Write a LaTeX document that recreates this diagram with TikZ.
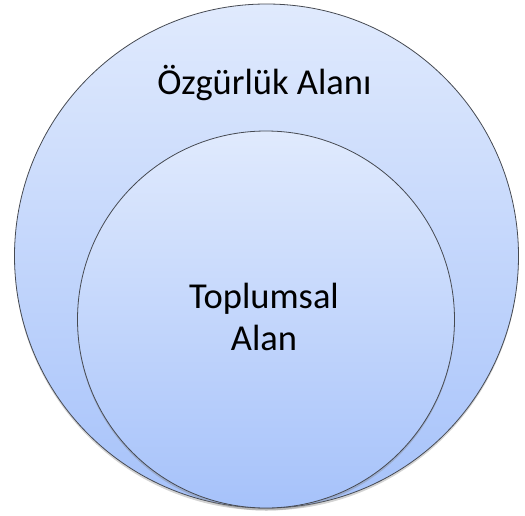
\documentclass[tikz,border=0pt]{standalone}
\usepackage{fontspec}
\setmainfont{Carlito}
\usetikzlibrary{shadows}
\definecolor{topc}{RGB}{224,234,253}
\definecolor{botc}{RGB}{166,194,250}
\definecolor{edge}{RGB}{70,74,82}
\tikzset{
  disc/.style={circle, draw=edge, line width=0.8pt, top color=topc, bottom color=botc,
    drop shadow={opacity=0.35, shadow xshift=0pt, shadow yshift=-2.5pt}, inner sep=0pt},
  lbl/.style={font=\fontsize{36.5}{42}\selectfont, align=center, text=black}
}
\begin{document}
\begin{tikzpicture}[x=1pt,y=1pt]
\useasboundingbox (0,0) rectangle (525,-515);
\node[disc, minimum size=504pt] (outer) at (266.5,-256) {};
\node[disc, minimum size=377pt] (inner) at (266,-319.5) {};
\node[lbl, anchor=base] (t1) at (264.5,-94) {Özgürlük Alanı};
\node[lbl, anchor=base] (t2) at (264,-350) {Toplumsal\\Alan};
\end{tikzpicture}
\end{document}
